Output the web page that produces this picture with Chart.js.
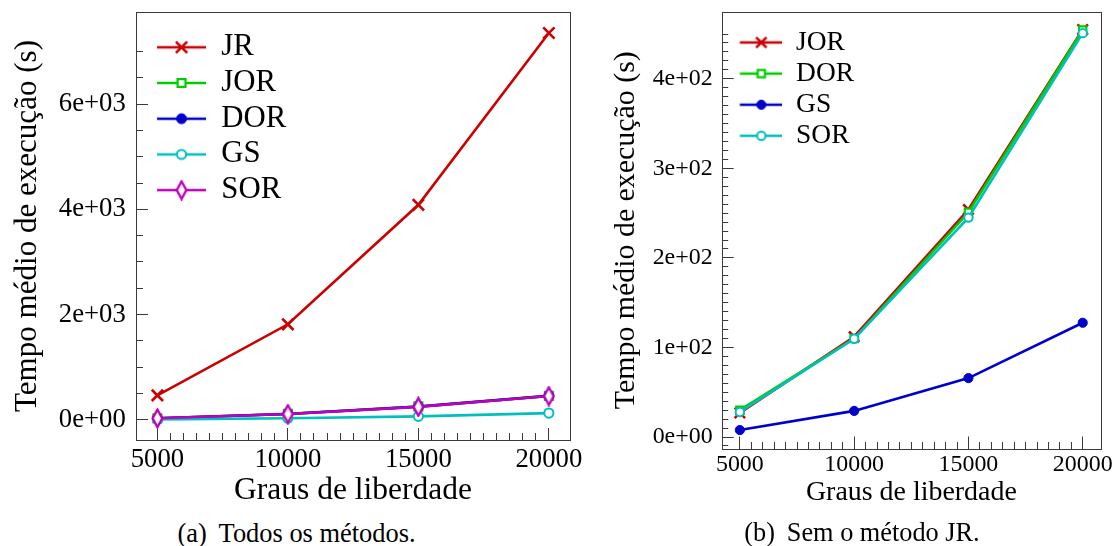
<!DOCTYPE html>
<html><head><meta charset="utf-8">
<script src="https://cdn.jsdelivr.net/npm/chart.js@4/dist/chart.umd.min.js"></script>
<style>
html,body{margin:0;padding:0;background:#fff;width:1113px;height:546px;overflow:hidden;}
#left{position:absolute;left:0;top:0;width:595px;height:510px;}
#right{position:absolute;left:580px;top:0;width:533px;height:510px;}
.cap{position:absolute;top:517px;color:#000;white-space:nowrap;line-height:32px;text-align:center;}
</style></head>
<body>
<div id="left"><canvas id="c1" width="595" height="510"></canvas></div>
<div id="right"><canvas id="c2" width="533" height="510"></canvas></div>
<div class="cap" id="capA" style="left:0;width:593px"><span>(a)</span><span class="gap">Todos os métodos.</span></div>
<div class="cap" id="capB" style="left:680px;width:364px"><span>(b)</span><span class="gap">Sem o método JR.</span></div>
<script>
// ---- data ----
const degrees = [5000, 10000, 15000, 20000];
const xTickValues = [5000, 10000, 15000, 20000];
const xTickLabels = ['5000', '10000', '15000', '20000'];
const timeJR  = [464, 1815, 4086, 7351];
const timeJOR = [27, 112, 254, 455];
const timeDOR = [30, 110, 251, 454.5];
const timeGS  = [7.8, 29.2, 65.8, 127.6];
const timeSOR = [28, 109.7, 245, 451];
const yTickValuesA = [0, 2000, 4000, 6000];
const yTickLabelsA = ['0e+00', '2e+03', '4e+03', '6e+03'];
const yTickValuesB = [0, 100, 200, 300, 400];
const yTickLabelsB = ['0e+00', '1e+02', '2e+02', '3e+02', '4e+02'];
const xTitle = 'Graus de liberdade';
const yTitle = 'Tempo médio de execução (s)';
const namesA = ['JR', 'JOR', 'DOR', 'GS', 'SOR'];
const namesB = ['JOR', 'DOR', 'GS', 'SOR'];

// ---- fonts ----
function hasFont(name) {
  const c = document.createElement('canvas').getContext('2d');
  const s = 'mmmmmmmmmmlliWWabcdefghijklmnop0123456789';
  for (const base of ['monospace', 'sans-serif', 'serif']) {
    c.font = '40px ' + base; const w0 = c.measureText(s).width;
    c.font = '40px "' + name + '", ' + base; const w1 = c.measureText(s).width;
    if (Math.abs(w0 - w1) > 0.01) return true;
  }
  return false;
}
const FAMILY = ['Liberation Serif', 'Times New Roman', 'Tinos', 'Nimbus Roman', 'DejaVu Serif', 'Noto Serif', 'FreeSerif'].find(hasFont) || 'serif';
const FONT = '"' + FAMILY + '", serif';
const mctx = document.createElement('canvas').getContext('2d');
function fit(text, w) { mctx.font = '100px ' + FONT; return 100 * w / mctx.measureText(text).width; }

// ---- style ----
const AXIS = '#3a3a3a';
const RED = 'rgb(204,0,0)', GREEN = 'rgb(0,204,0)', BLUE = 'rgb(0,0,204)', CYAN = 'rgb(0,191,191)', MAGENTA = 'rgb(191,0,191)';

function diamond(color, w, h, lw) {
  const c = document.createElement('canvas');
  c.width = w; c.height = h;
  const g = c.getContext('2d');
  g.beginPath();
  g.moveTo(w / 2, lw / 2 + 0.5); g.lineTo(w - lw / 2 - 0.5, h / 2);
  g.lineTo(w / 2, h - lw / 2 - 0.5); g.lineTo(lw / 2 + 0.5, h / 2); g.closePath();
  g.fillStyle = '#fff'; g.fill();
  g.strokeStyle = color; g.lineWidth = lw; g.stroke();
  return c;
}

function markerSpec(kind, color, s) {
  switch (kind) {
    case 'x': return {style: 'crossRot', r: 8 * s, bw: 2.6, fill: color};
    case 'sq': return {style: 'rect', r: 5.6 * s, bw: 2.2, fill: '#fff'};
    case 'dot': return {style: 'circle', r: 5 * s, bw: 1, fill: color};
    case 'oc': return {style: 'circle', r: 4.6 * s, bw: 2, fill: '#fff'};
    case 'dm': return {style: diamond(color, 13, 21, 2.4), r: 7, bw: 2, fill: '#fff'};
  }
}

function makeDataset(label, values, color, m, order) {
  return {
    label: label,
    data: degrees.map((x, i) => ({x: x, y: values[i]})),
    borderColor: color, backgroundColor: color, borderWidth: 2.6,
    pointStyle: m.style, pointRadius: m.r, pointHoverRadius: m.r,
    pointBorderWidth: m.bw, pointBackgroundColor: m.fill, pointBorderColor: color,
    tension: 0, order: order, _marker: m
  };
}

function makeIcon(ds, pad, lineLen, H) {
  const c = document.createElement('canvas');
  c.width = Math.round(pad + lineLen); c.height = H;
  const g = c.getContext('2d');
  const cy = H / 2;
  g.strokeStyle = ds.borderColor; g.lineWidth = ds.borderWidth;
  g.beginPath(); g.moveTo(pad, cy); g.lineTo(pad + lineLen, cy); g.stroke();
  const m = ds._marker, cx = pad + lineLen / 2;
  if (typeof m.style !== 'string') {
    g.drawImage(m.style, cx - m.style.width / 2, cy - m.style.height / 2);
  } else {
    g.fillStyle = m.fill; g.strokeStyle = ds.borderColor; g.lineWidth = m.bw;
    Chart.helpers.drawPoint(g, {pointStyle: m.style, radius: m.r, rotation: 0, borderWidth: m.bw}, cx, cy);
  }
  return c;
}

const framePlugin = {
  id: 'frame',
  afterDatasetsDraw(chart) {
    const a = chart.chartArea, ctx = chart.ctx;
    ctx.save();
    ctx.strokeStyle = AXIS; ctx.lineWidth = 1;
    ctx.strokeRect(Math.round(a.left) + 0.5, Math.round(a.top) + 0.5,
      Math.round(a.right) - Math.round(a.left), Math.round(a.bottom) - Math.round(a.top));
    ctx.restore();
  }
};

function build(canvas, cfg) {
  const H = canvas.height;
  const areaBottom = H - cfg.xAxisH;
  const legPad = cfg.rowStep - cfg.legSize;
  const legTop = cfg.row1 - legPad - cfg.legSize / 2 - 1;
  const iconPad = cfg.lineStart - cfg.yAxisW - legPad;
  const icons = cfg.datasets.map(d => makeIcon(d, iconPad, cfg.lineLen, 28));
  const tickFont = {family: FONT, size: cfg.tickSize, lineHeight: 1};
  const titleFontX = {family: FONT, size: cfg.xTitleSize, lineHeight: 1};
  const titleFontY = {family: FONT, size: cfg.yTitleSize, lineHeight: 1};
  return new Chart(canvas, {
    type: 'line',
    data: {datasets: cfg.datasets},
    plugins: [framePlugin],
    options: {
      responsive: false, animation: false, devicePixelRatio: 1,
      layout: {padding: cfg.padding},
      plugins: {
        tooltip: {enabled: false},
        legend: {
          position: 'chartArea', align: 'start',
          title: {display: true, text: '', padding: {top: legTop, bottom: 0}, font: {size: 1, lineHeight: 1}},
          labels: {
            usePointStyle: true, pointStyleWidth: Math.round(iconPad + cfg.lineLen),
            padding: legPad, color: '#000',
            font: {family: FONT, size: cfg.legSize, lineHeight: 1},
            generateLabels: (chart) => chart.data.datasets.map((d, i) => ({
              text: d.label, datasetIndex: i, pointStyle: icons[i], lineWidth: 0,
              fillStyle: 'rgba(0,0,0,0)', strokeStyle: 'rgba(0,0,0,0)', hidden: false, fontColor: '#000'
            })),
            sort: (a, b) => a.datasetIndex - b.datasetIndex
          }
        }
      },
      scales: {
        x: {
          type: 'linear', position: 'bottom', min: cfg.xMin, max: cfg.xMax, weight: 1,
          afterBuildTicks: s => { s.ticks = xTickValues.map(v => ({value: v})); },
          afterFit: s => { s.height = cfg.xAxisH; s.paddingLeft = 0; s.paddingRight = 0; },
          ticks: {callback: (v, i) => xTickLabels[i], font: tickFont, color: '#000',
                  padding: cfg.xTickCenter - areaBottom + cfg.majorLen - cfg.tickSize / 2,
                  autoSkip: false, maxRotation: 0, minRotation: 0},
          grid: {drawOnChartArea: false, drawTicks: true, tickLength: -cfg.majorLen, color: AXIS, tickColor: AXIS, lineWidth: 1},
          border: {display: false},
          title: {display: true, text: xTitle, font: titleFontX, color: '#000',
                  padding: {top: 0, bottom: H - cfg.xTitleCenter - cfg.xTitleSize / 2}}
        },
        xm: {
          type: 'linear', position: 'bottom', min: cfg.xMin, max: cfg.xMax, weight: 0,
          afterBuildTicks: s => { const t = []; for (let v = cfg.xMinorFrom; v <= cfg.xMinorTo; v += cfg.xMinorStep) t.push({value: v}); s.ticks = t; },
          afterFit: s => { s.height = 0; s.paddingLeft = 0; s.paddingRight = 0; },
          ticks: {display: false},
          grid: {drawOnChartArea: false, drawTicks: true, tickLength: -cfg.minorLen, color: AXIS, tickColor: AXIS, lineWidth: 1},
          border: {display: false}
        },
        y: {
          type: 'linear', position: 'left', min: cfg.yMin, max: cfg.yMax, weight: 1,
          afterBuildTicks: s => { s.ticks = cfg.yTickValues.map(v => ({value: v})); },
          afterFit: s => { s.width = cfg.yAxisW; s.paddingTop = 0; s.paddingBottom = 0; },
          ticks: {callback: (v, i) => cfg.yTickLabels[i], font: tickFont, color: '#000',
                  padding: cfg.yAxisW + cfg.majorLen - cfg.yTickRight, autoSkip: false},
          grid: {drawOnChartArea: false, drawTicks: true, tickLength: -cfg.majorLen, color: AXIS, tickColor: AXIS, lineWidth: 1},
          border: {display: false},
          title: {display: true, text: yTitle, font: titleFontY, color: '#000',
                  padding: {top: cfg.yTitleCenter - cfg.yTitleSize / 2, bottom: 0}}
        },
        ym: {
          type: 'linear', position: 'left', min: cfg.yMin, max: cfg.yMax, weight: 0,
          afterBuildTicks: s => { const t = []; for (let v = cfg.yMinorFrom; v <= cfg.yMinorTo + 1e-9; v += cfg.yMinorStep) t.push({value: v}); s.ticks = t; },
          afterFit: s => { s.width = 0; s.paddingTop = 0; s.paddingBottom = 0; },
          ticks: {display: false},
          grid: {drawOnChartArea: false, drawTicks: true, tickLength: -cfg.minorLen, color: AXIS, tickColor: AXIS, lineWidth: 1},
          border: {display: false}
        }
      }
    }
  });
}

// ---- chart (a): all methods ----
const seriesA = [timeJR, timeJOR, timeDOR, timeGS, timeSOR];
const colorsA = [RED, GREEN, BLUE, CYAN, MAGENTA];
const marksA = ['x', 'sq', 'dot', 'oc', 'dm'];
build(document.getElementById('c1'), {
  datasets: namesA.map((n, i) => makeDataset(n, seriesA[i], colorsA[i], markerSpec(marksA[i], colorsA[i], 1), 4 - i)),
  padding: {left: 0, top: 12, right: 25, bottom: 0},
  xMin: 4180, xMax: 20810, yMin: -384, yMax: 7751,
  yTickValues: yTickValuesA, yTickLabels: yTickLabelsA,
  xMinorFrom: 5000, xMinorTo: 20000, xMinorStep: 500,
  yMinorFrom: 0, yMinorTo: 7000, yMinorStep: 500,
  xAxisH: 70, yAxisW: 136, majorLen: 12, minorLen: 7,
  tickSize: fit('6e+03', 67), xTickCenter: 459.6, yTickRight: 125.8,
  xTitleSize: fit(xTitle, 238), xTitleCenter: 491,
  yTitleSize: fit(yTitle, 372), yTitleCenter: 27.7,
  legSize: fit('DOR', 65), row1: 47.3, rowStep: 35.7, lineStart: 157, lineLen: 49
});

// ---- chart (b): without JR ----
const seriesB = [timeJOR, timeDOR, timeGS, timeSOR];
const colorsB = [RED, GREEN, BLUE, CYAN];
const marksB = ['x', 'sq', 'dot', 'oc'];
build(document.getElementById('c2'), {
  datasets: namesB.map((n, i) => makeDataset(n, seriesB[i], colorsB[i], markerSpec(marksB[i], colorsB[i], 0.92), 3 - i)),
  padding: {left: 0, top: 12, right: 12, bottom: 0},
  xMin: 4205, xMax: 20800, yMin: -12.8, yMax: 474.6,
  yTickValues: yTickValuesB, yTickLabels: yTickLabelsB,
  xMinorFrom: 5000, xMinorTo: 20000, xMinorStep: 500,
  yMinorFrom: -10, yMinorTo: 450, yMinorStep: 10,
  xAxisH: 61.5, yAxisW: 141.7, majorLen: 12, minorLen: 6.5,
  tickSize: fit('4e+02', 60), xTickCenter: 464.8, yTickRight: 132.6,
  xTitleSize: fit(xTitle, 211), xTitleCenter: 492.7,
  yTitleSize: fit(yTitle, 358), yTitleCenter: 45.9,
  legSize: fit('DOR', 58), row1: 42.5, rowStep: 31.1, lineStart: 159.8, lineLen: 43
});

// ---- captions ----
const capSizeA = fit('Todos os métodos.', 197), capSizeB = fit('Sem o método JR.', 193);
const capA = document.getElementById('capA'), capB = document.getElementById('capB');
capA.style.fontFamily = FONT; capA.style.fontSize = capSizeA + 'px';
capB.style.fontFamily = FONT; capB.style.fontSize = capSizeB + 'px';
document.querySelectorAll('.gap').forEach(e => { e.style.marginLeft = '0.45em'; });
</script>
</body></html>
